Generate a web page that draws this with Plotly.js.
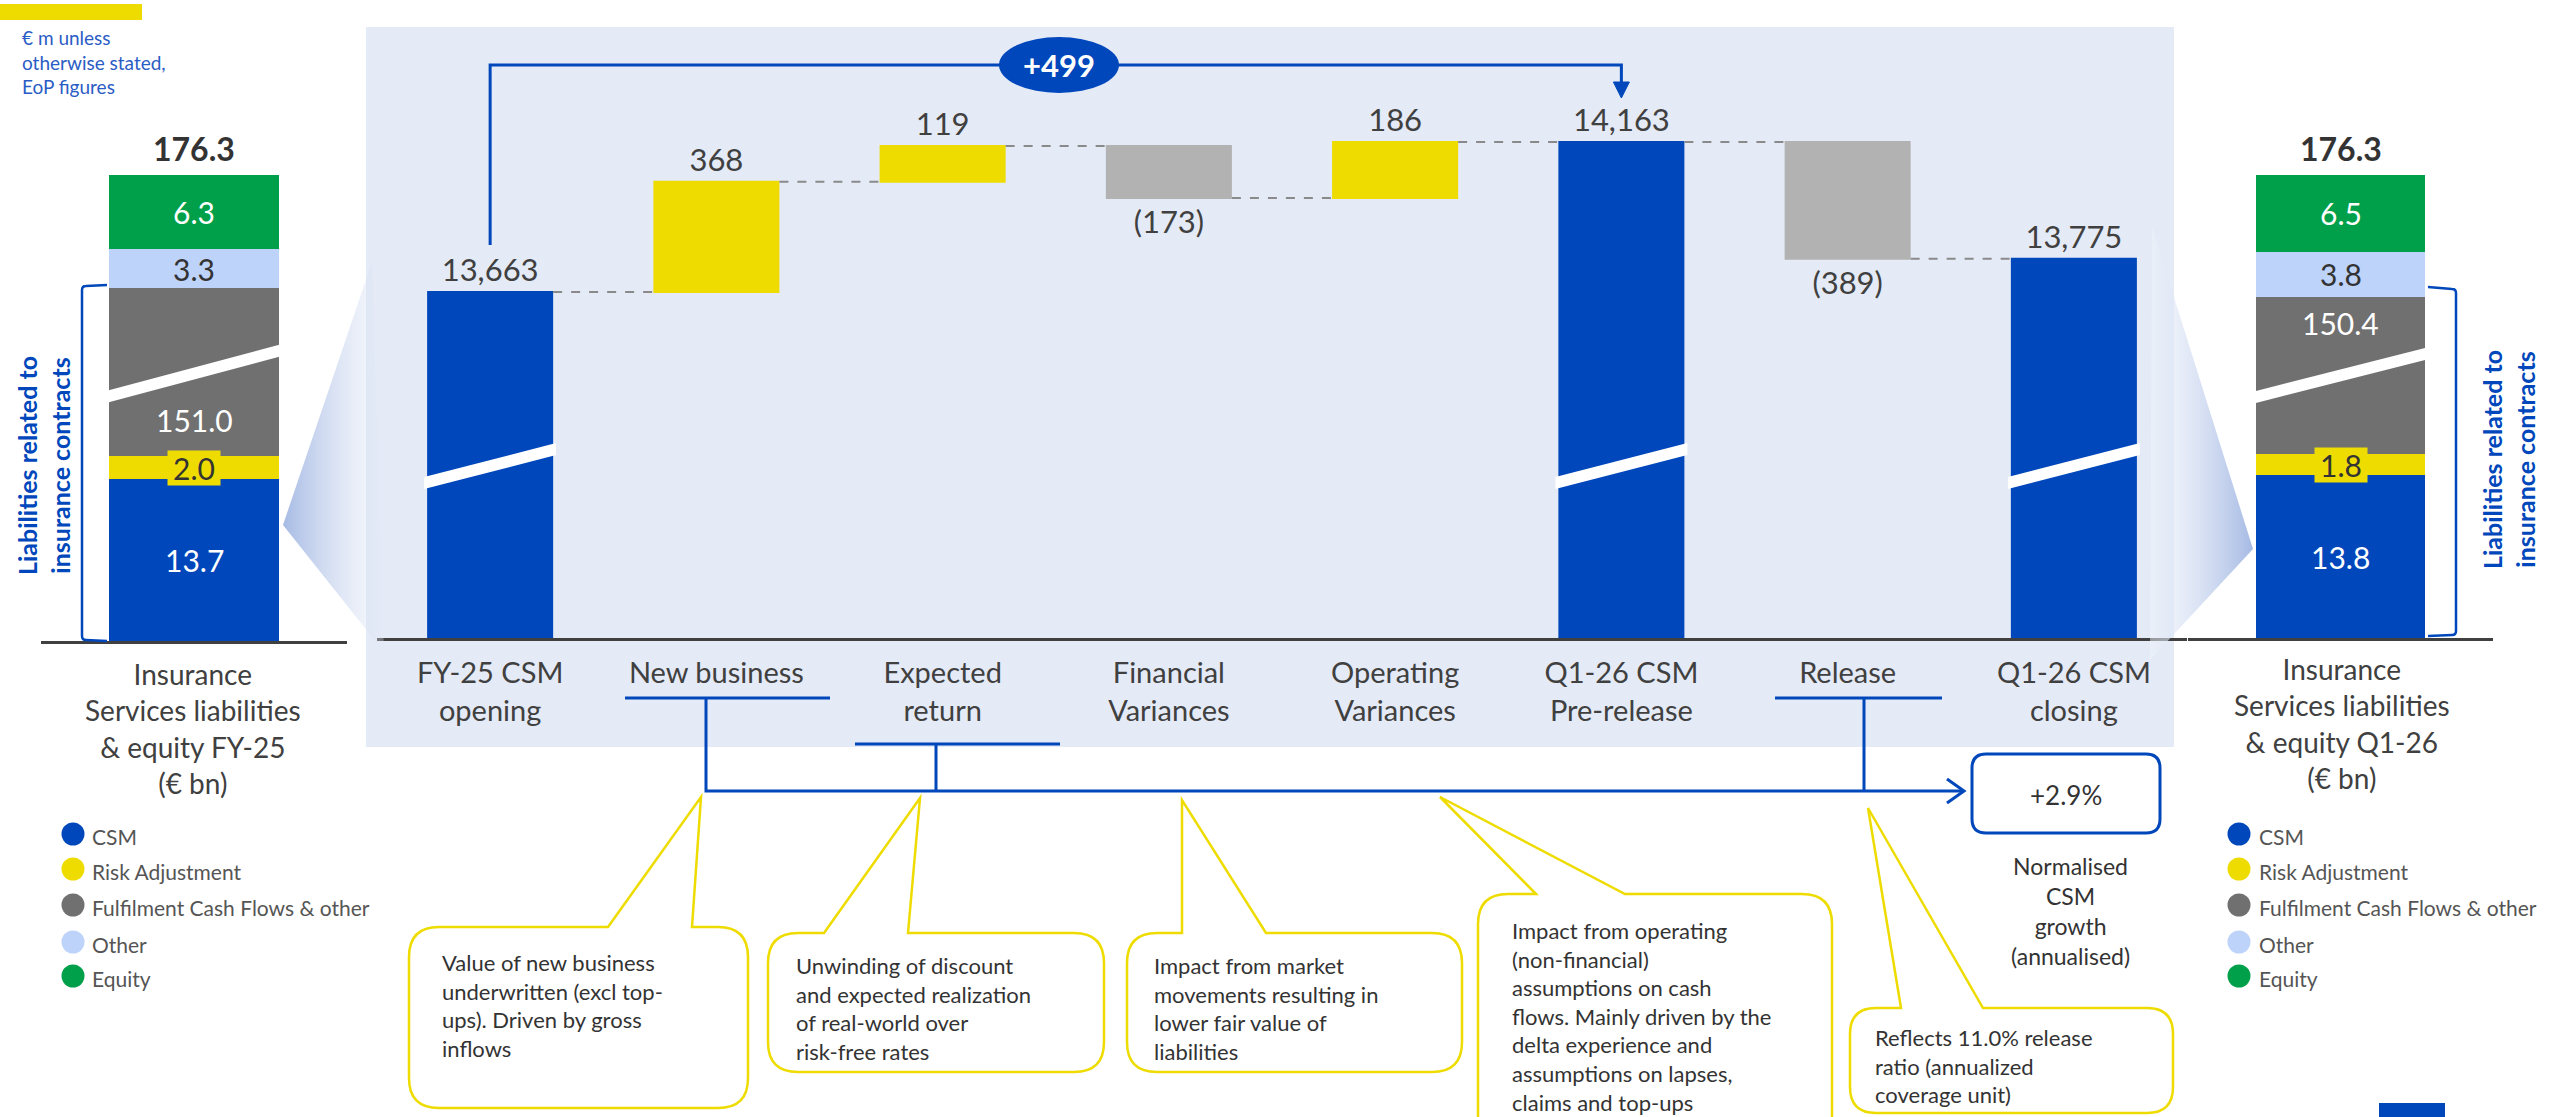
<!DOCTYPE html>
<html><head><meta charset="utf-8">
<script src="https://cdn.plot.ly/plotly-3.0.1.min.js"></script>
<style>html,body{margin:0;padding:0;background:#fff;}#chart{width:2560px;height:1117px;}</style>
</head><body><div id="chart"></div>
<script>
// ---------------- DATA ----------------
const steps = ['FY-25 CSM<br>opening','New business','Expected<br>return','Financial<br>Variances','Operating<br>Variances','Q1-26 CSM<br>Pre-release','Release','Q1-26 CSM<br>closing'];
const stepValues = [13663, 368, 119, -173, 186, 14163, -389, 13775];
const stepMeasures = ['absolute','relative','relative','relative','relative','total','relative','total'];
const growthLabel = '+499';
const normalisedGrowth = '+2.9%';

const segments = ['CSM','Risk Adjustment','Fulfilment Cash Flows & other','Other','Equity'];
const fy25Values = [13.7, 2.0, 151.0, 3.3, 6.3];
const q126Values = [13.8, 1.8, 150.4, 3.8, 6.5];
const fy25Total = 176.3;
const q126Total = 176.3;
const fy25Category = 'FY-25';
const q126Category = 'Q1-26';

const calloutTexts = [
  'Value of new business<br>underwritten (excl top-<br>ups). Driven by gross<br>inflows',
  'Unwinding of discount<br>and expected realization<br>of real-world over<br>risk-free rates',
  'Impact from market<br>movements resulting in<br>lower fair value of<br>liabilities',
  'Impact from operating<br>(non-financial)<br>assumptions on cash<br>flows. Mainly driven by the<br>delta experience and<br>assumptions on lapses,<br>claims and top-ups',
  'Reflects 11.0% release<br>ratio (annualized<br>coverage unit)'
];

// ---------------- STYLE ----------------
const W = 2560, H = 1117;
const FONT = 'Lato, "Open Sans", Arial, sans-serif';
const BLUE = '#0047BB', YELLOW = '#EEDC00', DGRAY = '#707070', LGRAY = '#B2B2B2', LBLUE = '#BED3FA', GREEN = '#00A04A';
const PANEL = '#E4EAF6', TXT = '#404040';
const segColors = [BLUE, YELLOW, DGRAY, LBLUE, GREEN];
const segTextColors = ['#ffffff', '#333333', '#ffffff', '#333333', '#ffffff'];
const px = x => x / W;
const py = y => 1 - y / H;

// main waterfall axis geometry (pixels)
const WX0 = 377, WX1 = 2187, WBOT = 638, WTOP = 27, WSCALE = 0.3, WBASE = 12510;
const catW = (WX1 - WX0) / steps.length;
const catX = i => WX0 + (i + 0.5) * catW;

// stacked bar geometry (broken axis: lower and upper panels overlap inside the grey segment)
const SS = 11.8; // px per € bn
const L = {x0: 41, x1: 347, bot: 641, lowTop: 335, upBot: 410, top: 175};
const R = {x0: 2188, x1: 2493, bot: 638, lowTop: 335, upBot: 410, top: 175};

// ---------------- TRACES ----------------
const fmt = v => v < 0 ? '(' + Math.abs(v).toLocaleString('en-US') + ')' : v.toLocaleString('en-US');
const traces = [];
traces.push({
  type: 'waterfall', x: steps, y: stepValues, measure: stepMeasures,
  text: stepValues.map(fmt), textposition: 'outside', cliponaxis: false,
  textfont: {family: FONT, size: 31, color: TXT},
  increasing: {marker: {color: YELLOW}},
  decreasing: {marker: {color: LGRAY}},
  totals: {marker: {color: BLUE}},
  connector: {mode: 'between', line: {color: '#8a8a8a', width: 2, dash: 'dash'}},
  xaxis: 'x', yaxis: 'y', hoverinfo: 'skip'
});

function stackTraces(vals, cat, xa, yLow, yUp) {
  [yLow, yUp].forEach(ya => {
    vals.forEach((v, k) => {
      traces.push({type: 'bar', x: [cat], y: [v], name: segments[k], marker: {color: segColors[k], line: {width: 0}},
        xaxis: xa, yaxis: ya, textposition: 'none', hoverinfo: 'skip'});
    });
  });
}
stackTraces(fy25Values, fy25Category, 'x3', 'y3', 'y4');
stackTraces(q126Values, q126Category, 'x4', 'y5', 'y6');

// funnels (decorative gradients) on pixel overlay
traces.push({type: 'scatter', xaxis: 'x2', yaxis: 'y2', x: [283, 372, 384, 283], y: [525, 262, 652, 525],
  mode: 'lines', line: {width: 0}, fill: 'toself', hoverinfo: 'skip',
  fillgradient: {type: 'horizontal', colorscale: [[0, '#A6BAE4'], [1, 'rgba(228,234,246,0.3)']]}});
traces.push({type: 'scatter', xaxis: 'x2', yaxis: 'y2', x: [2253, 2152, 2150, 2253], y: [549, 227, 660, 549],
  mode: 'lines', line: {width: 0}, fill: 'toself', hoverinfo: 'skip',
  fillgradient: {type: 'horizontal', colorscale: [[0, 'rgba(240,244,251,0.5)'], [1, '#A6BAE4']]}});

// ---------------- SHAPES ----------------
const shapes = [];
const P = (path, o) => Object.assign({type: 'path', xref: 'x2', yref: 'y2', path, layer: 'above'}, o);
// panel background
shapes.push({type: 'rect', xref: 'paper', yref: 'paper', x0: px(366), x1: px(2174), y0: py(747), y1: py(27),
  fillcolor: PANEL, line: {width: 0}, layer: 'below'});
// top-left yellow mark & bottom-right blue mark
shapes.push({type: 'rect', xref: 'x2', yref: 'y2', x0: 0, x1: 142, y0: 4, y1: 20, fillcolor: YELLOW, line: {width: 0}, layer: 'above'});
shapes.push({type: 'rect', xref: 'x2', yref: 'y2', x0: 2379, x1: 2445, y0: 1103, y1: 1117, fillcolor: BLUE, line: {width: 0}, layer: 'above'});

// slashes on blue waterfall bars
function slash(xl, yl, xr, yr, t, color) {
  return P(`M${xl},${yl - t / 2} L${xr},${yr - t / 2} L${xr},${yr + t / 2} L${xl},${yl + t / 2} Z`, {fillcolor: color, line: {width: 0}});
}
const halfBar = catW * 0.557 / 2 + 3;
stepMeasures.forEach((m, i) => {
  if (m !== 'relative') shapes.push(slash(catX(i) - halfBar, 483, catX(i) + halfBar, 449, 12, '#ffffff'));
});
// slashes on grey stacked segments
shapes.push(slash(106, 397, 282, 350, 12, '#ffffff'));
shapes.push(slash(2252, 398, 2429, 353, 12, '#ffffff'));

// +499 bracket
const xa0 = catX(0), xa5 = catX(5);
shapes.push(P(`M${xa0},245 L${xa0},65 L${xa5},65 L${xa5},84`, {line: {color: BLUE, width: 3}}));
shapes.push(P(`M${xa5 - 8},82 L${xa5 + 8},82 L${xa5},98 Z`, {fillcolor: BLUE, line: {color: BLUE, width: 1}}));
shapes.push({type: 'circle', xref: 'x2', yref: 'y2', x0: 999, x1: 1119, y0: 37, y1: 93, fillcolor: BLUE, line: {width: 0}, layer: 'above'});

// bottom bracket lines to growth box
shapes.push(P('M625,698 L830,698 M706,698 L706,791 L1963,791 M855,744 L1060,744 M936,744 L936,791 M1775,698 L1942,698 M1864,698 L1864,791', {line: {color: BLUE, width: 3}}));
shapes.push(P('M1947,779 L1964,791 L1947,803', {line: {color: BLUE, width: 3}}));
function rrect(x0, y0, x1, y1, r) {
  return `M${x0 + r},${y0} L${x1 - r},${y0} Q${x1},${y0} ${x1},${y0 + r} L${x1},${y1 - r} Q${x1},${y1} ${x1 - r},${y1} L${x0 + r},${y1} Q${x0},${y1} ${x0},${y1 - r} L${x0},${y0 + r} Q${x0},${y0} ${x0 + r},${y0} Z`;
}
shapes.push(P(rrect(1972, 754, 2160, 833, 14), {fillcolor: '#ffffff', line: {color: BLUE, width: 3}}));

// brackets "Liabilities related to insurance contracts"
shapes.push(P('M107,285 L86,286 Q82,286 82,290 L82,636 Q82,640 86,640 L107,641', {line: {color: BLUE, width: 2.5}}));
shapes.push(P('M2428,287 L2452,289 Q2456,289 2456,293 L2456,631 Q2456,635 2452,635 L2428,636', {line: {color: BLUE, width: 2.5}}));

// callouts
function bubble(x0, y0, x1, y1, r, b1, b2, tx, ty) {
  return `M${b1},${y0} L${tx},${ty} L${b2},${y0} L${x1 - r},${y0} Q${x1},${y0} ${x1},${y0 + r} L${x1},${y1 - r} Q${x1},${y1} ${x1 - r},${y1} L${x0 + r},${y1} Q${x0},${y1} ${x0},${y1 - r} L${x0},${y0 + r} Q${x0},${y0} ${x0 + r},${y0} Z`;
}
const callouts = [
  {b: [409, 927, 748, 1108, 30, 608, 692, 701, 797], t: [440, 1005]},
  {b: [768, 933, 1104, 1072, 30, 824, 908, 920, 798], t: [794, 1008]},
  {b: [1127, 933, 1462, 1072, 30, 1182, 1266, 1182, 800], t: [1152, 1008]},
  {b: [1478, 894, 1832, 1150, 30, 1536, 1625, 1440, 797], t: [1510, 1016]},
  {b: [1850, 1008, 2173, 1113, 26, 1901, 1983, 1868, 808], t: [1873, 1066]}
];
callouts.forEach(c => shapes.push(P(bubble(...c.b), {fillcolor: '#ffffff', line: {color: YELLOW, width: 2.5}})));

// legend dots
const legY = [834, 869, 905, 942, 976];
[73, 2239].forEach(cx => legY.forEach((cy, k) => shapes.push({type: 'circle', xref: 'x2', yref: 'y2',
  x0: cx - 11.5, x1: cx + 11.5, y0: cy - 11.5, y1: cy + 11.5, fillcolor: segColors[k], line: {width: 0}, layer: 'above'})));

// ---------------- ANNOTATIONS ----------------
const ann = [];
const A = (x, y, text, o) => Object.assign({xref: 'x2', yref: 'y2', x, y, text, showarrow: false,
  font: {family: FONT, size: 22, color: '#333'}}, o);

ann.push(A(20, 62, '€ m unless<br>otherwise stated,<br>EoP figures', {xanchor: 'left', align: 'left', font: {family: FONT, size: 19, color: '#2A5CC5'}}));
ann.push(A(1059, 65, '<b>' + growthLabel + '</b>', {font: {family: FONT, size: 31, color: '#ffffff'}}));
ann.push(A(2066, 795, normalisedGrowth, {font: {family: FONT, size: 26, color: '#333'}}));
ann.push(A(2070, 911, 'Normalised<br>CSM<br>growth<br>(annualised)', {font: {family: FONT, size: 23, color: '#333'}}));
ann.push(A(193, 728, 'Insurance<br>Services liabilities<br>& equity FY-25<br>(€ bn)', {font: {family: FONT, size: 28, color: TXT}}));
ann.push(A(2342, 723, 'Insurance<br>Services liabilities<br>& equity Q1-26<br>(€ bn)', {font: {family: FONT, size: 28, color: TXT}}));
ann.push(A(43, 466, '<b>Liabilities related to<br>insurance contracts</b>', {textangle: -90, font: {family: FONT, size: 25, color: BLUE}}));
ann.push(A(2508, 460, '<b>Liabilities related to<br>insurance contracts</b>', {textangle: -90, font: {family: FONT, size: 25, color: BLUE}}));
callouts.forEach((c, i) => ann.push(A(c.t[0], c.t[1], calloutTexts[i], {xanchor: 'left', align: 'left', font: {family: FONT, size: 22, color: '#333'}})));
[90, 2257].forEach(tx => legY.forEach((cy, k) => ann.push(A(tx, cy + 2, segments[k], {xanchor: 'left', font: {family: FONT, size: 21, color: '#555'}}))));

function stackAnnos(vals, total, cat, xa, yLow, yUp, grayY) {
  let cum = 0;
  vals.forEach((v, k) => {
    const mid = cum + v / 2; cum += v;
    const o = {xref: xa, x: cat, text: v.toFixed(1), showarrow: false, font: {family: FONT, size: 30, color: segTextColors[k]}};
    if (k === 2) { o.yref = 'y2'; o.y = grayY; }
    else { o.yref = k < 2 ? yLow : yUp; o.y = mid; }
    if (k === 1) { o.bgcolor = YELLOW; o.width = 50; o.height = 32; o.borderpad = 1; }
    ann.push(o);
  });
  ann.push({xref: xa, yref: yUp, x: cat, y: total, yanchor: 'bottom', yshift: 5, showarrow: false,
    text: '<b>' + total.toFixed(1) + '</b>', font: {family: FONT, size: 32, color: '#333'}});
}
stackAnnos(fy25Values, fy25Total, fy25Category, 'x3', 'y3', 'y4', 420);
stackAnnos(q126Values, q126Total, q126Category, 'x4', 'y5', 'y6', 323);

// ---------------- LAYOUT ----------------
const hid = {visible: false, showgrid: false, zeroline: false, fixedrange: true};
const layout = {
  width: W, height: H, margin: {l: 0, r: 0, t: 0, b: 0}, autosize: false,
  paper_bgcolor: '#ffffff', plot_bgcolor: 'rgba(0,0,0,0)', showlegend: false, hovermode: false,
  barmode: 'stack', bargap: 0.444, waterfallgap: 0.443,
  font: {family: FONT, color: TXT},
  xaxis: {domain: [px(WX0), px(WX1)], anchor: 'y', type: 'category', showline: true, linecolor: TXT, linewidth: 3,
    ticks: '', showgrid: false, zeroline: false, fixedrange: true, ticklabelstandoff: 7,
    tickfont: {family: FONT, size: 29, color: TXT}},
  yaxis: Object.assign({domain: [py(WBOT), py(WTOP)], anchor: 'x', range: [WBASE, WBASE + (WBOT - WTOP) / WSCALE]}, hid),
  xaxis2: Object.assign({domain: [0, 1], anchor: 'y2', range: [0, W]}, hid),
  yaxis2: Object.assign({domain: [0, 1], anchor: 'x2', range: [H, 0]}, hid),
  xaxis3: {domain: [px(L.x0), px(L.x1)], anchor: 'y3', type: 'category', showline: true, linecolor: TXT, linewidth: 3,
    showticklabels: false, ticks: '', showgrid: false, zeroline: false, fixedrange: true},
  yaxis3: Object.assign({domain: [py(L.bot), py(L.lowTop)], anchor: 'x3', range: [0, (L.bot - L.lowTop) / SS]}, hid),
  yaxis4: Object.assign({domain: [py(L.upBot), py(L.top)], anchor: 'x3', range: [fy25Total - (L.upBot - L.top) / SS, fy25Total]}, hid),
  xaxis4: {domain: [px(R.x0), px(R.x1)], anchor: 'y5', type: 'category', showline: true, linecolor: TXT, linewidth: 3,
    showticklabels: false, ticks: '', showgrid: false, zeroline: false, fixedrange: true},
  yaxis5: Object.assign({domain: [py(R.bot), py(R.lowTop)], anchor: 'x4', range: [0, (R.bot - R.lowTop) / SS]}, hid),
  yaxis6: Object.assign({domain: [py(R.upBot), py(R.top)], anchor: 'x4', range: [q126Total - (R.upBot - R.top) / SS, q126Total]}, hid),
  shapes, annotations: ann
};
Plotly.newPlot('chart', traces, layout, {staticPlot: true, displayModeBar: false});
</script></body></html>
